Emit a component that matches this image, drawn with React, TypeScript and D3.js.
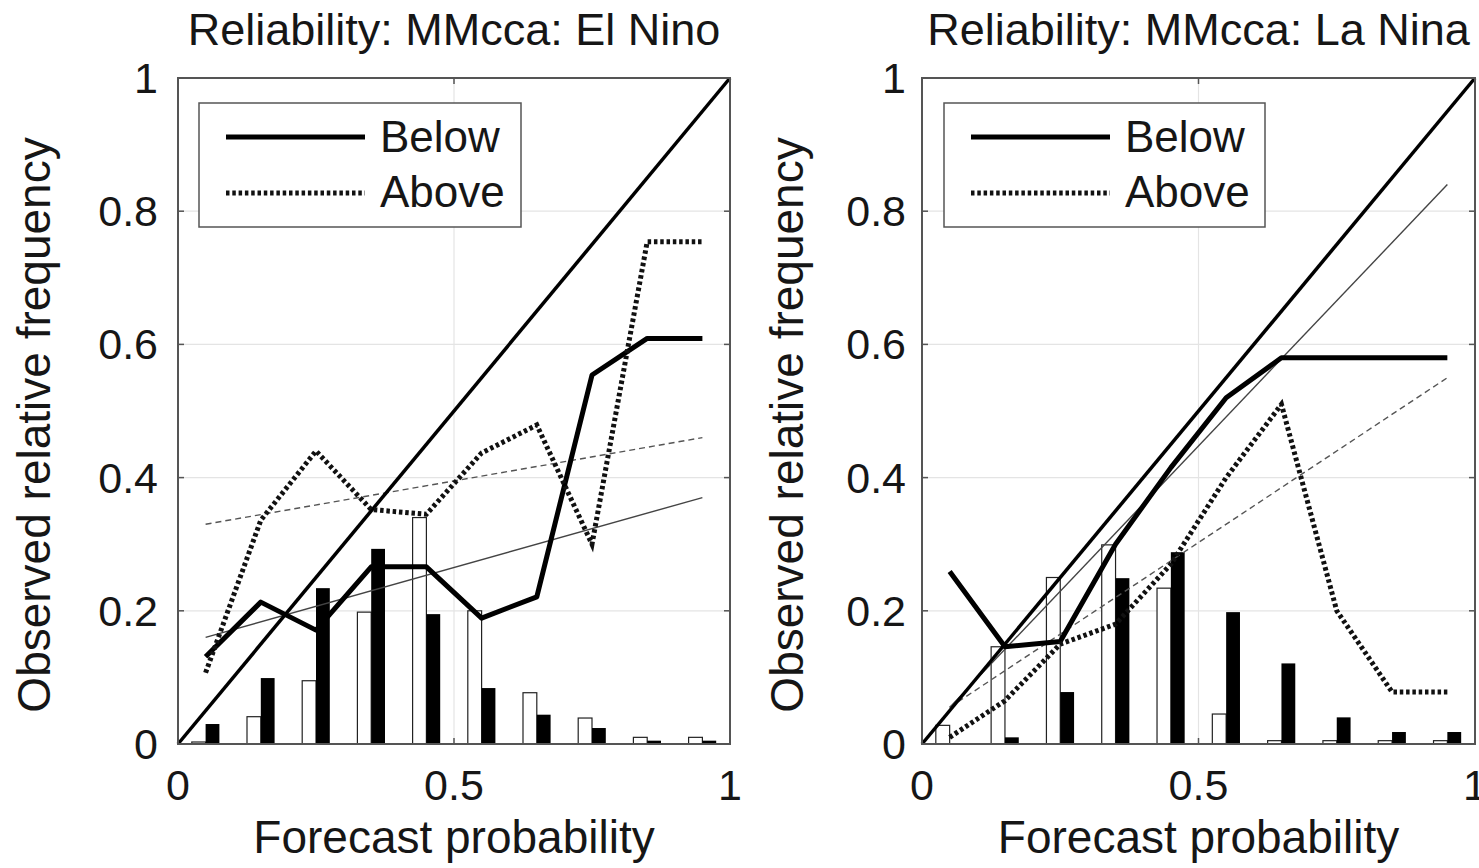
import React from "react";
import * as d3 from "d3";

const W = 1479;
const H = 868;

// bin centres of forecast probability
const binCenters = [0.05, 0.15, 0.25, 0.35, 0.45, 0.55, 0.65, 0.75, 0.85, 0.95];
const fitEnds = [0.05, 0.95];
const xTicks = [0, 0.5, 1];
const yTicks = [0, 0.2, 0.4, 0.6, 0.8, 1];
const xGrid = [0.5];
const yGrid = [0.2, 0.4, 0.6, 0.8];
const legendLabels = ["Below", "Above"];

// El Nino
const elNinoBelow = [0.131, 0.213, 0.171, 0.266, 0.266, 0.189, 0.221, 0.554, 0.609, 0.609];
const elNinoAbove = [0.107, 0.336, 0.44, 0.352, 0.345, 0.437, 0.479, 0.3, 0.754, 0.754];
const elNinoBelowFit = [0.16, 0.37];
const elNinoAboveFit = [0.33, 0.46];
const elNinoHistAbove = [0.003, 0.041, 0.095, 0.198, 0.34, 0.2, 0.077, 0.039, 0.01, 0.01];
const elNinoHistBelow = [0.03, 0.099, 0.234, 0.293, 0.195, 0.084, 0.044, 0.024, 0.005, 0.005];

// La Nina
const laNinaBelow = [0.259, 0.146, 0.154, 0.3, 0.415, 0.52, 0.58, 0.58, 0.58, 0.58];
const laNinaAbove = [0.01, 0.065, 0.15, 0.18, 0.27, 0.4, 0.51, 0.2, 0.078, 0.078];
const laNinaBelowFit = [0.055, 0.84];
const laNinaAboveFit = [0.055, 0.55];
const laNinaHistAbove = [0.028, 0.146, 0.25, 0.299, 0.234, 0.045, 0.005, 0.005, 0.005, 0.005];
const laNinaHistBelow = [0, 0.01, 0.078, 0.249, 0.288, 0.198, 0.121, 0.04, 0.018, 0.018];

const font = "'Liberation Sans', Arial, Helvetica, sans-serif";
const textColor = "#161616";
const barW = 0.025;
const dots = "3.5 2.8";

function Panel({ title, below, above, belowFit, aboveFit, histAbove, histBelow, layout }) {
  const x = d3.scaleLinear().domain([0, 1]).range([layout.x0, layout.x1]);
  const y = d3.scaleLinear().domain([0, 1]).range([744, 78]);
  const line = d3
    .line<[number, number]>()
    .x((d) => x(d[0]))
    .y((d) => y(d[1]));

  const pts = (vals: number[], xs: number[]) => xs.map((p, i) => [p, vals[i]] as [number, number]);
  const [x0, x1] = x.range();
  const [yb, yt] = y.range();
  const lg = layout.legend;

  return (
    <g>
      <text x={(x0 + x1) / 2} y={45} textAnchor="middle" fontSize={45} fill={textColor}>
        {title}
      </text>

      {/* grid */}
      {xGrid.map((g) => (
        <line key={"gx" + g} x1={x(g)} x2={x(g)} y1={yb} y2={yt} stroke="#e4e4e4" strokeWidth={1.2} />
      ))}
      {yGrid.map((g) => (
        <line key={"gy" + g} x1={x0} x2={x1} y1={y(g)} y2={y(g)} stroke="#e4e4e4" strokeWidth={1.2} />
      ))}

      {/* histograms */}
      {binCenters.map((c, i) => (
        <g key={"b" + i}>
          <rect
            x={x(c - barW)}
            y={y(histAbove[i])}
            width={x(c) - x(c - barW)}
            height={yb - y(histAbove[i])}
            fill="#fff"
            stroke="#222"
            strokeWidth={1.2}
          />
          <rect
            x={x(c)}
            y={y(histBelow[i])}
            width={x(c + barW) - x(c)}
            height={yb - y(histBelow[i])}
            fill="#000"
          />
        </g>
      ))}

      {/* fitted lines */}
      <path d={line(pts(belowFit, fitEnds))} fill="none" stroke="#444" strokeWidth={1.4} />
      <path d={line(pts(aboveFit, fitEnds))} fill="none" stroke="#555" strokeWidth={1.4} strokeDasharray="6 4" />

      {/* perfect reliability */}
      <path d={line([[0, 0], [1, 1]])} fill="none" stroke="#000" strokeWidth={3.5} />

      {/* reliability curves */}
      <path d={line(pts(below, binCenters))} fill="none" stroke="#000" strokeWidth={5} strokeLinejoin="round" />
      <path
        d={line(pts(above, binCenters))}
        fill="none"
        stroke="#111"
        strokeWidth={5}
        strokeDasharray={dots}
      />

      {/* frame + ticks */}
      <rect x={x0} y={yt} width={x1 - x0} height={yb - yt} fill="none" stroke="#555" strokeWidth={2} />
      {xTicks.map((t) => (
        <g key={"tx" + t}>
          <line x1={x(t)} x2={x(t)} y1={yb} y2={yb - 6} stroke="#555" strokeWidth={1.5} />
          <line x1={x(t)} x2={x(t)} y1={yt} y2={yt + 6} stroke="#555" strokeWidth={1.5} />
          <text x={x(t)} y={800} textAnchor="middle" fontSize={43} fill={textColor}>
            {String(t)}
          </text>
        </g>
      ))}
      {yTicks.map((t) => (
        <g key={"ty" + t}>
          <line x1={x0} x2={x0 + 6} y1={y(t)} y2={y(t)} stroke="#555" strokeWidth={1.5} />
          <line x1={x1} x2={x1 - 6} y1={y(t)} y2={y(t)} stroke="#555" strokeWidth={1.5} />
          <text x={layout.tickEnd} y={y(t) + 15} textAnchor="end" fontSize={43} fill={textColor}>
            {String(t)}
          </text>
        </g>
      ))}

      {/* axis labels */}
      <text x={(x0 + x1) / 2} y={853} textAnchor="middle" fontSize={46} fill={textColor}>
        Forecast probability
      </text>
      <text
        transform={`translate(${layout.yLabelX},425) rotate(-90)`}
        textAnchor="middle"
        fontSize={46}
        fill={textColor}
      >
        Observed relative frequency
      </text>

      {/* legend */}
      <rect x={lg.x} y={103} width={lg.w} height={124} fill="#fff" stroke="#555" strokeWidth={1.5} />
      <line x1={lg.x + 27} x2={lg.x + 166} y1={137} y2={137} stroke="#000" strokeWidth={5} />
      <line
        x1={lg.x + 27}
        x2={lg.x + 166}
        y1={193}
        y2={193}
        stroke="#111"
        strokeWidth={5}
        strokeDasharray={dots}
      />
      {legendLabels.map((l, i) => (
        <text key={l} x={lg.x + 181} y={152 + i * 55} fontSize={44} fill={textColor}>
          {l}
        </text>
      ))}
    </g>
  );
}

export default function App() {
  return (
    <svg
      width={W}
      height={H}
      style={{ position: "absolute", left: 0, top: 0, background: "#fff", fontFamily: font }}
    >
      <rect width={W} height={H} fill="#fff" />
      <Panel
        title="Reliability: MMcca: El Nino"
        below={elNinoBelow}
        above={elNinoAbove}
        belowFit={elNinoBelowFit}
        aboveFit={elNinoAboveFit}
        histAbove={elNinoHistAbove}
        histBelow={elNinoHistBelow}
        layout={{ x0: 178, x1: 730, tickEnd: 158, yLabelX: 50, legend: { x: 199, w: 322 } }}
      />
      <Panel
        title="Reliability: MMcca: La Nina"
        below={laNinaBelow}
        above={laNinaAbove}
        belowFit={laNinaBelowFit}
        aboveFit={laNinaAboveFit}
        histAbove={laNinaHistAbove}
        histBelow={laNinaHistBelow}
        layout={{ x0: 922, x1: 1475, tickEnd: 906, yLabelX: 803, legend: { x: 944, w: 321 } }}
      />
    </svg>
  );
}
